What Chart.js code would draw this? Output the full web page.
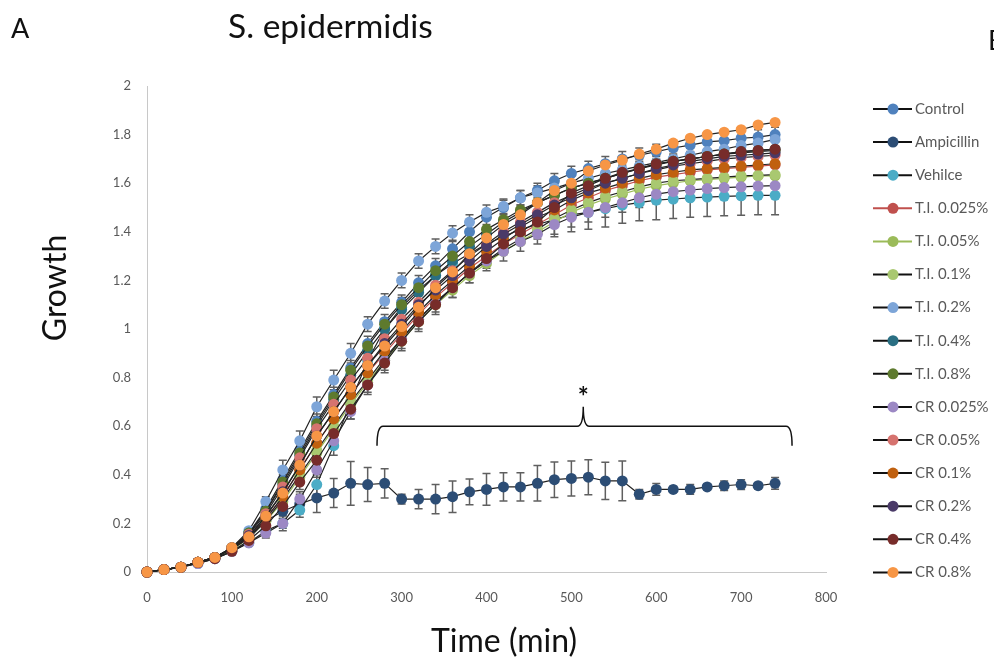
<!DOCTYPE html>
<html>
<head>
<meta charset="utf-8">
<script src="https://cdn.jsdelivr.net/npm/chart.js@4.4.1/dist/chart.umd.min.js"></script>
<style>
  html, body { margin: 0; padding: 0; background: #fff; }
  #wrap { width: 994px; height: 661px; }
</style>
</head>
<body>
<div id="wrap"><canvas id="growthChart" width="994" height="661"></canvas></div>
<script>
'use strict';

// Time points (min)
const times = [0, 20, 40, 60, 80, 100, 120, 140, 160, 180, 200, 220, 240, 260, 280, 300, 320, 340, 360,
    380, 400, 420, 440, 460, 480, 500, 520, 540, 560, 580, 600, 620, 640, 660, 680, 700, 720, 740];

// Growth values
const control = [0, .01, .02, .04, .06, .10, .16, .26, .38, .50, .62, .73, .84, .94, 1.03, 1.11, 1.19, 1.26, 1.33,
    1.40, 1.46, 1.50, 1.54, 1.57, 1.61, 1.64, 1.66, 1.68, 1.70, 1.715, 1.73, 1.745, 1.757, 1.77, 1.775, 1.785, 1.79, 1.80];
const ampicillin = [0, .01, .02, .04, .06, .095, .14, .21, .25, .28, .305, .325, .365, .36, .365, .30, .30, .30, .31,
    .33, .34, .35, .35, .365, .38, .385, .39, .375, .375, .32, .34, .34, .34, .35, .355, .36, .355, .365];
const vehicle = [0, .01, .02, .035, .055, .085, .12, .17, .20, .255, .36, .52, .70, .87, 1.0, 1.09, 1.16, 1.22, 1.27,
    1.31, 1.35, 1.38, 1.41, 1.43, 1.45, 1.47, 1.48, 1.495, 1.51, 1.52, 1.53, 1.535, 1.54, 1.543, 1.546, 1.548, 1.55, 1.55];
const ti0025 = [0, .01, .02, .04, .06, .095, .145, .22, .31, .42, .53, .63, .73, .82, .90, .98, 1.06, 1.13, 1.19,
    1.25, 1.30, 1.35, 1.39, 1.43, 1.47, 1.51, 1.54, 1.57, 1.59, 1.61, 1.625, 1.635, 1.645, 1.655, 1.66, 1.665, 1.67, 1.675];
const ti005 = [0, .01, .02, .04, .06, .09, .14, .21, .29, .39, .49, .59, .69, .78, .87, .95, 1.03, 1.10, 1.16,
    1.22, 1.27, 1.32, 1.36, 1.40, 1.44, 1.48, 1.51, 1.535, 1.555, 1.575, 1.59, 1.60, 1.61, 1.615, 1.62, 1.625, 1.63, 1.63];
const ti01 = [0, .01, .02, .04, .06, .095, .14, .21, .30, .40, .50, .60, .70, .79, .88, .96, 1.04, 1.11, 1.17,
    1.23, 1.28, 1.33, 1.37, 1.41, 1.455, 1.49, 1.52, 1.545, 1.565, 1.585, 1.60, 1.61, 1.615, 1.62, 1.625, 1.63, 1.632, 1.635];
const ti02 = [0, .01, .02, .04, .06, .10, .17, .29, .42, .54, .68, .79, .90, 1.02, 1.115, 1.20, 1.28, 1.34, 1.395,
    1.44, 1.48, 1.505, 1.54, 1.56, 1.58, 1.60, 1.62, 1.64, 1.655, 1.67, 1.685, 1.70, 1.715, 1.73, 1.74, 1.755, 1.765, 1.78];
const ti04 = [0, .01, .02, .04, .06, .10, .16, .25, .36, .48, .60, .71, .81, .91, 1.00, 1.08, 1.15, 1.22, 1.28,
    1.34, 1.39, 1.44, 1.48, 1.52, 1.55, 1.58, 1.60, 1.62, 1.64, 1.66, 1.675, 1.69, 1.70, 1.71, 1.72, 1.73, 1.735, 1.74];
const ti08 = [0, .01, .02, .04, .06, .10, .16, .25, .37, .49, .61, .72, .83, .93, 1.02, 1.10, 1.17, 1.24, 1.30,
    1.36, 1.41, 1.45, 1.49, 1.52, 1.55, 1.58, 1.60, 1.62, 1.64, 1.66, 1.68, 1.69, 1.70, 1.71, 1.72, 1.725, 1.73, 1.735];
const cr0025 = [0, .01, .02, .035, .055, .085, .12, .16, .20, .30, .42, .54, .66, .77, .87, .96, 1.04, 1.11, 1.17,
    1.23, 1.28, 1.32, 1.36, 1.39, 1.43, 1.46, 1.48, 1.50, 1.52, 1.54, 1.555, 1.565, 1.572, 1.578, 1.582, 1.585, 1.588, 1.59];
const cr005 = [0, .01, .02, .04, .06, .10, .155, .24, .35, .47, .59, .69, .79, .88, .96, 1.04, 1.11, 1.18, 1.24,
    1.30, 1.35, 1.40, 1.44, 1.48, 1.52, 1.55, 1.58, 1.60, 1.62, 1.64, 1.655, 1.67, 1.68, 1.69, 1.70, 1.705, 1.71, 1.715];
const cr01 = [0, .01, .02, .04, .06, .095, .14, .22, .31, .42, .53, .63, .73, .82, .91, .99, 1.07, 1.14, 1.20,
    1.26, 1.32, 1.37, 1.42, 1.46, 1.49, 1.53, 1.56, 1.58, 1.60, 1.62, 1.635, 1.645, 1.655, 1.66, 1.665, 1.67, 1.675, 1.68];
const cr02 = [0, .01, .02, .04, .06, .095, .15, .23, .33, .44, .56, .66, .76, .85, .94, 1.02, 1.10, 1.16, 1.22,
    1.28, 1.34, 1.39, 1.43, 1.47, 1.51, 1.54, 1.57, 1.60, 1.62, 1.64, 1.66, 1.675, 1.69, 1.70, 1.71, 1.715, 1.72, 1.725];
const cr04 = [0, .01, .02, .04, .055, .085, .13, .19, .27, .37, .46, .57, .67, .77, .86, .95, 1.03, 1.10, 1.17,
    1.23, 1.29, 1.35, 1.40, 1.44, 1.50, 1.56, 1.59, 1.62, 1.645, 1.66, 1.68, 1.69, 1.70, 1.71, 1.72, 1.73, 1.735, 1.74];
const cr08 = [0, .01, .02, .04, .06, .10, .145, .23, .325, .44, .56, .66, .76, .85, .93, 1.01, 1.09, 1.17, 1.235,
    1.31, 1.375, 1.43, 1.47, 1.52, 1.57, 1.60, 1.65, 1.675, 1.695, 1.72, 1.74, 1.765, 1.785, 1.80, 1.81, 1.82, 1.84, 1.85];

// Error bars (± SD) for the series that show them
const ampicillinErr = [0, 0, 0, 0, 0, .005, .01, .02, .03, .04, .06, .06, .09, .07, .06, .02, .04, .06, .065,
    .053, .065, .058, .058, .073, .073, .072, .072, .077, .082, .02, .024, .012, .02, .012, .02, .02, .012, .024];
const vehicleErr = [0, 0, 0, 0, 0, 0, .01, .02, .03, .03, .04, .04, .04, .04, .04, .04, .04, .05, .05,
    .05, .05, .06, .06, .06, .07, .07, .07, .075, .075, .075, .08, .08, .08, .08, .08, .08, .08, .08];
const cr0025Err = [0, 0, 0, 0, 0, 0, .01, .02, .02, .03, .03, .03, .03, .03, .04, .04, .04, .04, .04,
    .04, .04, .04, .04, .04, .04, .04, .04, .04, .04, .04, .04, .04, .04, .04, .04, .04, .04, .04];
const cr04Err = [0, 0, 0, 0, 0, 0, .01, .02, .02, .03, .03, .04, .04, .04, .04, .04, .04, .04, .04,
    .04, .04, .04, .03, .03, .03, .03, .03, .03, .03, .03, .03, .03, .03, .03, .03, .03, .03, .03];
const ti02Err = [0, 0, 0, 0, 0, 0, .01, .02, .04, .04, .04, .04, .04, .03, .03, .03, .03, .03, .03,
    .03, .03, .03, .03, .03, .03, .03, .03, .03, .03, .03, .03, .03, .03, .03, .03, .03, .03, .03];
const controlErr = [0, 0, 0, 0, 0, 0, .01, .02, .02, .03, .03, .03, .03, .03, .03, .03, .03, .03, .03,
    .03, .03, .03, .03, .03, .03, .03, .03, .03, .03, .03, .03, .03, .03, .03, .03, .03, .03, .03];

const seriesNames = ['Control', 'Ampicillin', 'Vehilce', 'T.I. 0.025%', 'T.I. 0.05%', 'T.I. 0.1%', 'T.I. 0.2%',
    'T.I. 0.4%', 'T.I. 0.8%', 'CR 0.025%', 'CR 0.05%', 'CR 0.1%', 'CR 0.2%', 'CR 0.4%', 'CR 0.8%'];
const seriesValues = [control, ampicillin, vehicle, ti0025, ti005, ti01, ti02, ti04, ti08, cr0025, cr005, cr01, cr02, cr04, cr08];
const seriesErrors = [controlErr, ampicillinErr, vehicleErr, null, null, null, ti02Err, null, null, cr0025Err, null, null, null, cr04Err, null];
const markerColors = ['#4F81BD', '#2C4D75', '#4BACC6', '#C0504D', '#9BBB59', '#A9C870', '#7DA5D8',
    '#2A6F83', '#5E7A2E', '#9C88C4', '#D6736F', '#C0600F', '#4A3A68', '#772C2A', '#F79646'];
const lineColors = ['#222', '#222', '#222', '#C0504D', '#9BBB59', '#222', '#222',
    '#222', '#222', '#222', '#222', '#222', '#222', '#222', '#222'];

const yTicks = { min: 0, max: 2, step: 0.2 };
const xTicks = { min: 0, max: 800, step: 100 };

const TEXT_GREY = '#595959';
const FONT = 'Lato, "Open Sans", sans-serif';

const datasets = seriesNames.map((name, i) => ({
    label: name,
    data: times.map((t, k) => ({ x: t, y: seriesValues[i][k] })),
    errors: seriesErrors[i],
    borderColor: lineColors[i],
    borderWidth: 1.2,
    pointBackgroundColor: markerColors[i],
    pointBorderColor: markerColors[i],
    pointBorderWidth: 0,
    pointRadius: 5.5,
    pointHoverRadius: 5.5,
    tension: 0,
    clip: false,
    order: seriesNames.length - 1 - i   // last series drawn on top, like Excel
}));

// Error bars under the markers
const errorBarsPlugin = {
    id: 'errorBars',
    beforeDatasetsDraw(chart) {
        const ctx = chart.ctx;
        const xs = chart.scales.x, ys = chart.scales.y;
        ctx.save();
        ctx.strokeStyle = '#5f5f5f';
        ctx.lineWidth = 1.5;
        chart.data.datasets.forEach(ds => {
            if (!ds.errors) return;
            ds.data.forEach((p, k) => {
                const e = ds.errors[k];
                if (!e) return;
                const px = xs.getPixelForValue(p.x);
                const top = ys.getPixelForValue(p.y + e);
                const bot = ys.getPixelForValue(p.y - e);
                ctx.beginPath();
                ctx.moveTo(px, top); ctx.lineTo(px, bot);
                ctx.moveTo(px - 4, top); ctx.lineTo(px + 4, top);
                ctx.moveTo(px - 4, bot); ctx.lineTo(px + 4, bot);
                ctx.stroke();
            });
        });
        ctx.restore();
    }
};

// Significance bracket over the ampicillin curve
const bracket = { x0: 271, x1: 760, xMid: 514, yBar: 0.60, yEnd: 0.52, yPeak: 0.68, yStar: 0.74 };

const annotationsPlugin = {
    id: 'annotations',
    afterDraw(chart) {
        const ctx = chart.ctx;
        const xs = chart.scales.x, ys = chart.scales.y;
        ctx.save();

        // bracket
        const x0 = xs.getPixelForValue(bracket.x0), x1 = xs.getPixelForValue(bracket.x1);
        const xm = xs.getPixelForValue(bracket.xMid);
        const yb = ys.getPixelForValue(bracket.yBar), ye = ys.getPixelForValue(bracket.yEnd);
        const yp = ys.getPixelForValue(bracket.yPeak);
        ctx.strokeStyle = '#111';
        ctx.lineWidth = 1.5;
        ctx.beginPath();
        ctx.moveTo(x0, ye);
        ctx.quadraticCurveTo(x0, yb, x0 + 6, yb);
        ctx.lineTo(xm - 6, yb);
        ctx.quadraticCurveTo(xm, yb, xm, yp);
        ctx.quadraticCurveTo(xm, yb, xm + 6, yb);
        ctx.lineTo(x1 - 6, yb);
        ctx.quadraticCurveTo(x1, yb, x1, ye);
        ctx.stroke();

        ctx.fillStyle = '#111';
        ctx.font = 'bold 26px ' + FONT;
        ctx.textAlign = 'center';
        ctx.textBaseline = 'middle';
        ctx.fillText('*', xm, ys.getPixelForValue(bracket.yStar) + 5);

        // panel letters and title
        ctx.fillStyle = '#111';
        ctx.font = '27px ' + FONT;
        ctx.textAlign = 'left';
        ctx.textBaseline = 'alphabetic';
        ctx.fillText('A', 11, 38);
        ctx.fillText('B', 988, 50);
        ctx.font = '33.5px ' + FONT;
        ctx.fillText('S. epidermidis', 228, 38);

        // axis titles
        ctx.font = '32px ' + FONT;
        ctx.textAlign = 'center';
        ctx.textBaseline = 'middle';
        ctx.fillText('Time (min)', 504, 642);
        ctx.save();
        ctx.translate(56, 288);
        ctx.rotate(-Math.PI / 2);
        ctx.fillText('Growth', 0, 0);
        ctx.restore();

        // legend
        chart.data.datasets.forEach((ds, i) => {
            const y = 109 + i * 33.1;
            ctx.strokeStyle = lineColors[i] === '#222' ? '#111' : lineColors[i];
            ctx.lineWidth = 2;
            ctx.beginPath();
            ctx.moveTo(873, y); ctx.lineTo(912, y);
            ctx.stroke();
            ctx.fillStyle = markerColors[i];
            ctx.beginPath();
            ctx.arc(893, y, 5.5, 0, Math.PI * 2);
            ctx.fill();
            ctx.fillStyle = TEXT_GREY;
            ctx.font = '15px ' + FONT;
            ctx.textAlign = 'left';
            ctx.textBaseline = 'middle';
            ctx.fillText(ds.label, 915, y);
        });
        ctx.restore();
    }
};

const chart = new Chart(document.getElementById('growthChart'), {
    type: 'line',
    data: { datasets },
    options: {
        responsive: false,
        animation: false,
        layout: { padding: { top: 86, right: 168, left: 0, bottom: 0 } },
        scales: {
            x: {
                type: 'linear',
                min: xTicks.min,
                max: xTicks.max,
                afterFit(scale) { scale.height = 89; },
                grid: { display: false, drawTicks: false },
                border: { display: true, color: '#c8c8c8', width: 1 },
                ticks: { stepSize: xTicks.step, padding: 18, color: TEXT_GREY, font: { family: FONT, size: 13 } }
            },
            y: {
                min: yTicks.min,
                max: yTicks.max,
                afterFit(scale) { scale.width = 147; },
                grid: { display: false, drawTicks: false },
                border: { display: true, color: '#c8c8c8', width: 1 },
                ticks: {
                    stepSize: yTicks.step, padding: 16, color: TEXT_GREY, font: { family: FONT, size: 13 },
                    callback: v => String(Math.round(v * 10) / 10)
                }
            }
        },
        plugins: {
            legend: { display: false },
            tooltip: { enabled: false }
        }
    },
    plugins: [errorBarsPlugin, annotationsPlugin]
});
</script>
</body>
</html>
